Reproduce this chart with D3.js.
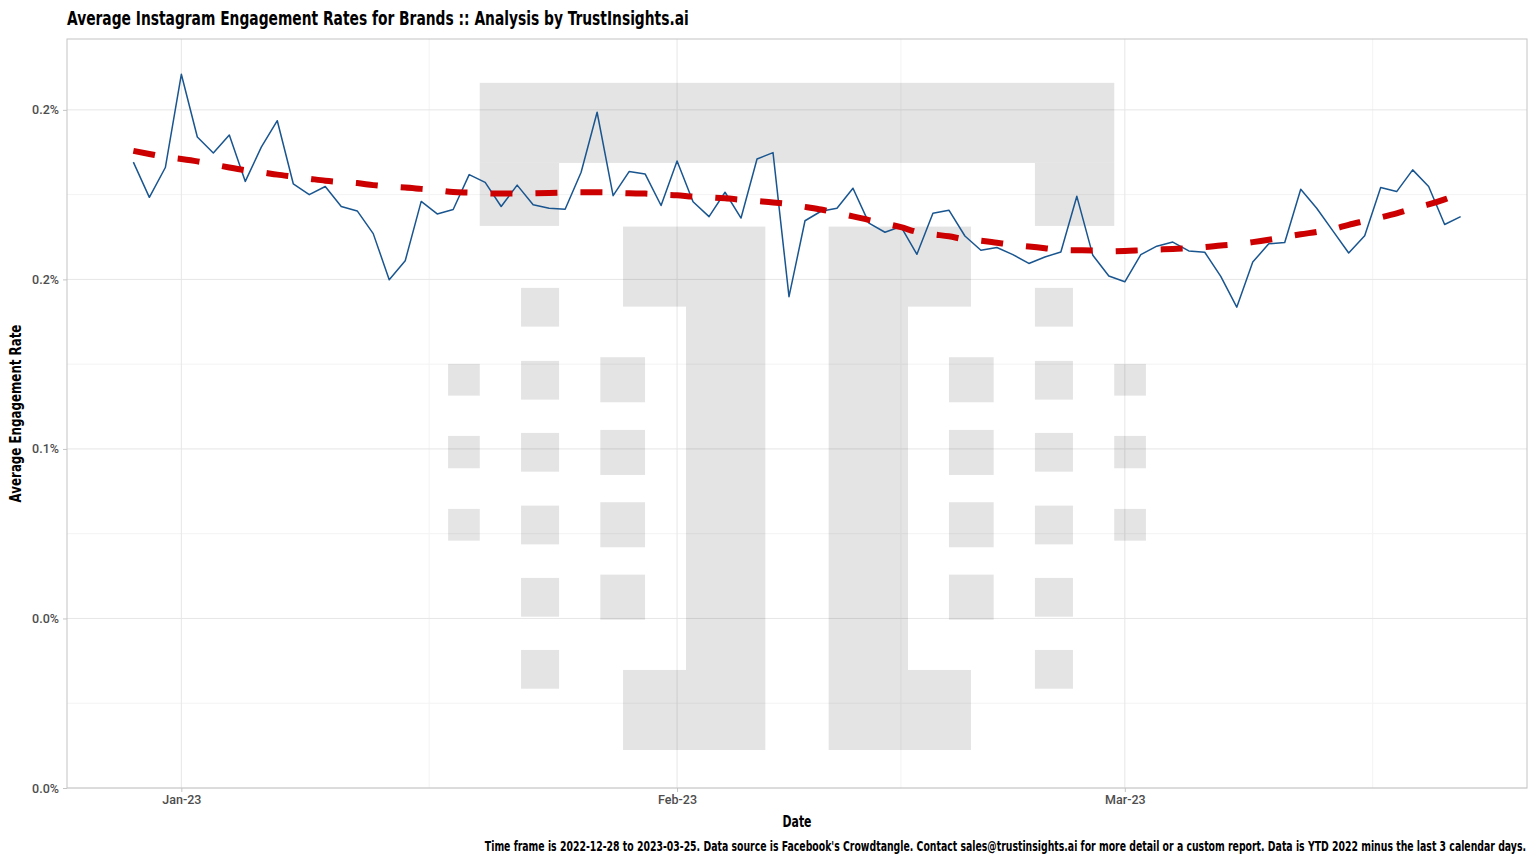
<!DOCTYPE html>
<html>
<head>
<meta charset="utf-8">
<script src="https://cdn.jsdelivr.net/npm/d3@7"></script>
<style>
  html, body { margin: 0; padding: 0; background: #fff; }
  svg { display: block; }
</style>
</head>
<body>
<svg id="chart" width="1536" height="864"></svg>
<script>
// ---------------- DATA ----------------
const startDate = "2022-12-29";
const endDate = "2023-03-22";

// Average engagement rate, percent
const engagementRate = [
  0.1846, 0.1742, 0.1830, 0.2105, 0.1920, 0.1873, 0.1926, 0.1789, 0.1890, 0.1968,
  0.1782, 0.1750, 0.1774, 0.1715, 0.1702, 0.1635, 0.1499, 0.1555, 0.1730, 0.1693,
  0.1706, 0.1809, 0.1786, 0.1715, 0.1778, 0.1720, 0.1710, 0.1707, 0.1816, 0.1993,
  0.1747, 0.1818, 0.1811, 0.1718, 0.1849, 0.1729, 0.1685, 0.1757, 0.1681, 0.1855,
  0.1874, 0.1449, 0.1673, 0.1701, 0.1710, 0.1769, 0.1666, 0.1639, 0.1656, 0.1574,
  0.1695, 0.1704, 0.1628, 0.1586, 0.1594, 0.1573, 0.1547, 0.1566, 0.1581, 0.1745,
  0.1571, 0.1510, 0.1493, 0.1573, 0.1598, 0.1610, 0.1584, 0.1580, 0.1509, 0.1418,
  0.1551, 0.1605, 0.1609, 0.1766, 0.1710, 0.1644, 0.1578, 0.1629, 0.1771, 0.1759,
  0.1823, 0.1774, 0.1662, 0.1685
];

// Smoothed trend (loess), percent
const trendRate = [
  0.1879, 0.1870, 0.1861, 0.1855, 0.1848, 0.1839, 0.1830, 0.1822, 0.1816, 0.1809,
  0.1803, 0.1797, 0.1791, 0.1787, 0.1784, 0.1778, 0.1774, 0.1771, 0.1767, 0.1763,
  0.1758, 0.1756, 0.1754, 0.1753, 0.1753, 0.1754, 0.1755, 0.1756, 0.1757, 0.1757,
  0.1756, 0.1754, 0.1753, 0.1750, 0.1748, 0.1744, 0.1742, 0.1739, 0.1735, 0.1731,
  0.1727, 0.1722, 0.1714, 0.1706, 0.1696, 0.1686, 0.1675, 0.1665, 0.1654, 0.1640,
  0.1633, 0.1627, 0.1618, 0.1614, 0.1608, 0.1602, 0.1597, 0.1592, 0.1587, 0.1586,
  0.1585, 0.1583, 0.1584, 0.1586, 0.1588, 0.1590, 0.1592, 0.1595, 0.1600, 0.1604,
  0.1610, 0.1617, 0.1625, 0.1633, 0.1640, 0.1648, 0.1661, 0.1672, 0.1683, 0.1695,
  0.1709, 0.1721, 0.1736, 0.1754
];

const yTickValues = [0, 0.05, 0.10, 0.15, 0.20];
const yTickLabels = ["0.0%", "0.0%", "0.1%", "0.2%", "0.2%"];
const yMinorValues = [0.025, 0.075, 0.125, 0.175];
const xTickDates = ["2023-01-01", "2023-02-01", "2023-03-01"];
const xTickLabels = ["Jan-23", "Feb-23", "Mar-23"];
const xMinorDates = ["2023-01-16T12:00", "2023-02-15", "2023-03-16T12:00"];

const titleText = "Average Instagram Engagement Rates for Brands :: Analysis by TrustInsights.ai";
const xTitle = "Date";
const yTitle = "Average Engagement Rate";
const captionText = "Time frame is 2022-12-28 to 2023-03-25. Data source is Facebook's Crowdtangle. Contact sales@trustinsights.ai for more detail or a custom report. Data is YTD 2022 minus the last 3 calendar days.";

// ---------------- LAYOUT ----------------
const panel = { left: 67, right: 1527, top: 39, bottom: 788 };
const condFont = "'DejaVu Sans Condensed', 'Liberation Sans Narrow', sans-serif";
const tickFont = "Roboto, 'Noto Sans', sans-serif";

const parse = s => new Date(s + (s.length > 10 ? ":00Z" : "T00:00:00Z"));
const start = parse(startDate), end = parse(endDate);
const dates = d3.utcDays(start, d3.utcDay.offset(end, 1));
const series = dates.map((d, i) => ({ date: d, v: engagementRate[i], t: trendRate[i] }));

const spanMs = end - start;
const pad = spanMs * 0.05;
const x = d3.scaleUtc()
  .domain([new Date(+start - pad), new Date(+end + pad)])
  .range([panel.left, panel.right]);
const y = d3.scaleLinear().domain([0, 0.2209]).range([panel.bottom, panel.top]);

const svg = d3.select("#chart");
svg.append("rect").attr("width", 1536).attr("height", 864).attr("fill", "#fff");

// gridlines
const grid = svg.append("g");
grid.selectAll(".ymin").data(yMinorValues).join("line")
  .attr("x1", panel.left).attr("x2", panel.right)
  .attr("y1", d => y(d)).attr("y2", d => y(d))
  .attr("stroke", "#f3f3f3").attr("stroke-width", 1);
grid.selectAll(".xmin").data(xMinorDates.map(parse)).join("line")
  .attr("y1", panel.top).attr("y2", panel.bottom)
  .attr("x1", d => x(d)).attr("x2", d => x(d))
  .attr("stroke", "#f3f3f3").attr("stroke-width", 1);
grid.selectAll(".ymaj").data(yTickValues).join("line")
  .attr("x1", panel.left).attr("x2", panel.right)
  .attr("y1", d => y(d)).attr("y2", d => y(d))
  .attr("stroke", "#e6e6e6").attr("stroke-width", 1);
grid.selectAll(".xmaj").data(xTickDates.map(parse)).join("line")
  .attr("y1", panel.top).attr("y2", panel.bottom)
  .attr("x1", d => x(d)).attr("x2", d => x(d))
  .attr("stroke", "#e6e6e6").attr("stroke-width", 1);

// watermark logo (image placed in data coordinates)
const wm = { x0: parse("2023-01-17T16:20"), x1: parse("2023-03-02T07:40"), y0: 0.01121, y1: 0.20796 };
const LW = 698, LH = 667;
const logoLeft = [
  [31.7, 80, 79.3, 63],
  [175, 143.7, 63, 80], [238, 143.7, 79.3, 523.3], [175, 587, 63, 80],
  [0, 281, 31.7, 31.7], [0, 353, 31.7, 32.3], [0, 426, 31.7, 31.7],
  [73, 205, 38, 38.7], [73, 278, 38, 38.7], [73, 350, 38, 38.7],
  [73, 422.7, 38, 38.7], [73, 495, 38, 38.7], [73, 567, 38, 38.7],
  [152.3, 274.3, 44.7, 45], [152.3, 347, 44.7, 45], [152.3, 419.3, 44.7, 45], [152.3, 491.7, 44.7, 45]
];
const logoRects = [[31.7, 0, 634.6, 80]]
  .concat(logoLeft)
  .concat(logoLeft.map(r => [LW - r[0] - r[2], r[1], r[2], r[3]]));
const bx0 = x(wm.x0), bx1 = x(wm.x1), by0 = y(wm.y1), by1 = y(wm.y0);
const sx = (bx1 - bx0) / LW, sy = (by1 - by0) / LH;
svg.append("g").attr("opacity", 0.1)
  .selectAll("rect").data(logoRects).join("rect")
  .attr("x", d => bx0 + d[0] * sx).attr("y", d => by0 + d[1] * sy)
  .attr("width", d => d[2] * sx).attr("height", d => d[3] * sy)
  .attr("fill", "#000");

// data line
svg.append("path").datum(series)
  .attr("fill", "none").attr("stroke", "#19558f").attr("stroke-width", 1.5)
  .attr("stroke-linejoin", "round")
  .attr("d", d3.line().x(d => x(d.date)).y(d => y(d.v)));

// trend line
svg.append("path").datum(series)
  .attr("fill", "none").attr("stroke", "#cc0000").attr("stroke-width", 6)
  .attr("stroke-dasharray", "22,23")
  .attr("d", d3.line().curve(d3.curveMonotoneX).x(d => x(d.date)).y(d => y(d.t)));

// panel border
svg.append("rect")
  .attr("x", panel.left).attr("y", panel.top)
  .attr("width", panel.right - panel.left).attr("height", panel.bottom - panel.top)
  .attr("fill", "none").attr("stroke", "#c4c4c4").attr("stroke-width", 1);

// axes
const yAxis = d3.axisLeft(y).tickValues(yTickValues)
  .tickFormat((d, i) => yTickLabels[i]).tickSize(4).tickPadding(4);
const gy = svg.append("g").attr("transform", `translate(${panel.left},0)`).call(yAxis);
const xAxis = d3.axisBottom(x).tickValues(xTickDates.map(parse))
  .tickFormat((d, i) => xTickLabels[i]).tickSize(4).tickPadding(3);
const gx = svg.append("g").attr("transform", `translate(0,${panel.bottom})`).call(xAxis);
[gx, gy].forEach(g => {
  g.select(".domain").remove();
  g.selectAll(".tick line").attr("stroke", "#c4c4c4");
  g.selectAll(".tick text").attr("fill", "#4d4d4d")
    .style("font-family", tickFont).style("font-size", "12.5px").style("font-weight", 500);
});

// text helper: condensed text horizontally scaled to a target width
function fitText(tx, ty, rot, anchor, size, width, str) {
  const g = svg.append("g");
  const t = g.append("text")
    .attr("text-anchor", anchor)
    .style("font-family", condFont).style("font-size", size + "px").style("font-weight", "bold")
    .attr("fill", "#000").text(str);
  const natural = t.node().getComputedTextLength();
  const k = natural > 0 ? width / natural : 1;
  g.attr("transform", `translate(${tx},${ty}) rotate(${rot}) scale(${k},1)`);
  return g;
}

fitText(panel.left, 25, 0, "start", 20, 622, titleText);
fitText((panel.left + panel.right) / 2, 827, 0, "middle", 16, 29, xTitle);
fitText(21, (panel.top + panel.bottom) / 2, -90, "middle", 16, 178, yTitle);
fitText(1526, 851, 0, "end", 14, 1042, captionText);
</script>
</body>
</html>
